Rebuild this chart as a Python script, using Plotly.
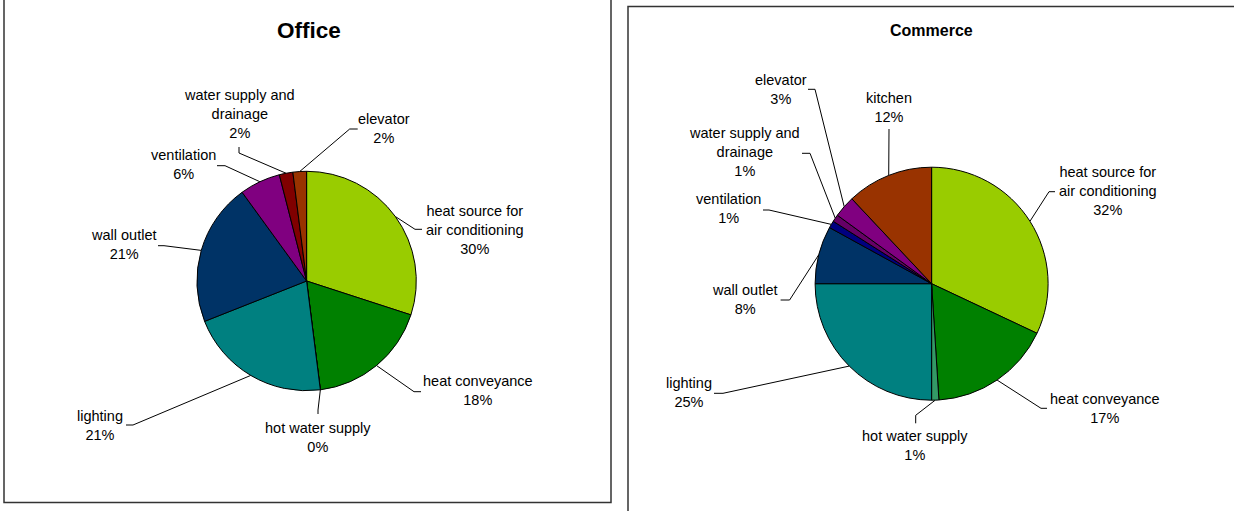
import math
import plotly.graph_objects as go

W, H = 1234, 511

# ---- data -------------------------------------------------------------
office_categories = [
    "heat source for<br>air conditioning", "heat conveyance", "hot water supply",
    "lighting", "wall outlet", "ventilation", "water supply and<br>drainage", "elevator",
]
office_values = [30, 18, 0, 21, 21, 6, 2, 2]
office_colors = ["#99CC00", "#008000", "#339966", "#008080",
                 "#003366", "#800080", "#800000", "#993300"]

commerce_categories = [
    "heat source for<br>air conditioning", "heat conveyance", "hot water supply",
    "lighting", "wall outlet", "ventilation", "water supply and<br>drainage", "elevator",
    "kitchen",
]
commerce_values = [32, 17, 1, 25, 8, 1, 1, 3, 12]
commerce_colors = ["#99CC00", "#008000", "#339966", "#008080", "#003366",
                   "#000080", "#660066", "#800080", "#993300"]

# ---- layout (pixel space) ----------------------------------------------
# pie centre and radius
office_pie = (306.6, 281.0, 109.7)
commerce_pie = (931.6, 283.7, 116.5)

# label block centre, leader anchor on the label, elbow offset
office_labels = [
    (474.5, 229.5, 422, 229.3, -7, 0),
    (478.3, 390.5, 421, 391.7, -7, 0),
    (317.8, 437.5, 318, 414.0, 0, -4),
    (100.4, 425.0, 126, 425.0, 7, 0),
    (123.5, 244.5, 158, 245.7, 6, 0),
    (183.8, 164.5, 217, 165.7, 8, 0),
    (239.2, 114.0, 239, 147.0, 0, 6),
    (384.4, 128.0, 357.7, 129.0, -8, 0),
]
commerce_labels = [
    (1107.6, 190.9, 1055, 191.7, -6, 0),
    (1105.1, 408.0, 1047, 408.3, -6, 0),
    (914.8, 445.0, 915.7, 423.3, 0, -8),
    (688.5, 392.3, 714, 393.3, 9, 0),
    (744.8, 299.7, 780.6, 300.0, 9, 0),
    (728.7, 208.8, 763, 210.0, 6, 0),
    (744.3, 152.0, 802, 153.3, 8, 0),
    (781.0, 89.2, 808, 89.3, 7, 0),
    (888.7, 107.0, 889, 129.0, 0, 5),
]

FONT = "Liberation Sans, Arial, sans-serif"
LABEL_SIZE = 14.5

fig = go.Figure()
annotations = []


def add_pie(name, categories, values, colors, pie, labels, title, title_size):
    cx, cy, r = pie
    fig.add_trace(go.Pie(
        name=name,
        labels=categories,
        values=values,
        marker=dict(colors=colors, line=dict(color="#000000", width=1)),
        sort=False,
        direction="clockwise",
        rotation=0,
        textinfo="none",
        showlegend=False,
        domain=dict(x=[(cx - r) / W, (cx + r) / W],
                    y=[1 - (cy + r) / H, 1 - (cy - r) / H]),
    ))

    total = float(sum(values))
    lx, ly = [], []
    cum = 0.0
    for cat, v, lab in zip(categories, values, labels):
        mid = (cum + v / 2.0) / total
        cum += v
        theta = 2 * math.pi * mid
        tip_x = cx + r * math.sin(theta)
        tip_y = cy - r * math.cos(theta)
        tcx, tcy, ax, ay, edx, edy = lab
        lx += [ax, ax + edx, tip_x, None]
        ly += [ay, ay + edy, tip_y, None]
        annotations.append(dict(
            x=tcx, y=tcy, xref="x", yref="y",
            text=f"{cat}<br>{v / total * 100:.0f}%",
            showarrow=False, xanchor="center", yanchor="middle",
            font=dict(family=FONT, size=LABEL_SIZE, color="#000000"),
        ))
    fig.add_trace(go.Scatter(
        x=lx, y=ly, mode="lines",
        line=dict(color="#000000", width=1),
        hoverinfo="skip", showlegend=False,
    ))
    annotations.append(dict(
        x=cx, y=30.5, xref="x", yref="y",
        text=f"<b>{title}</b>", showarrow=False,
        xanchor="center", yanchor="middle",
        font=dict(family=FONT, size=title_size, color="#000000"),
    ))


add_pie("Office", office_categories, office_values, office_colors,
        office_pie, office_labels, "Office", 22.5)
add_pie("Commerce", commerce_categories, commerce_values, commerce_colors,
        commerce_pie, commerce_labels, "Commerce", 16)

# centre the titles over their panels rather than the pies
annotations[8]["x"] = 308.7
annotations[-1]["x"] = 931.8

fig.update_layout(
    width=W, height=H,
    margin=dict(l=0, r=0, t=0, b=0),
    paper_bgcolor="#ffffff", plot_bgcolor="#ffffff",
    xaxis=dict(range=[0, W], visible=False, fixedrange=True, domain=[0, 1]),
    yaxis=dict(range=[H, 0], visible=False, fixedrange=True, domain=[0, 1]),
    annotations=annotations,
    shapes=[
        dict(type="rect", xref="x", yref="y", x0=4, x1=611, y0=-5, y1=502.5,
             line=dict(color="#333333", width=1.5), fillcolor="rgba(0,0,0,0)"),
        dict(type="rect", xref="x", yref="y", x0=628, x1=1245, y0=6.5, y1=525,
             line=dict(color="#333333", width=1.5), fillcolor="rgba(0,0,0,0)"),
    ],
)

fig.write_html("out.html")
